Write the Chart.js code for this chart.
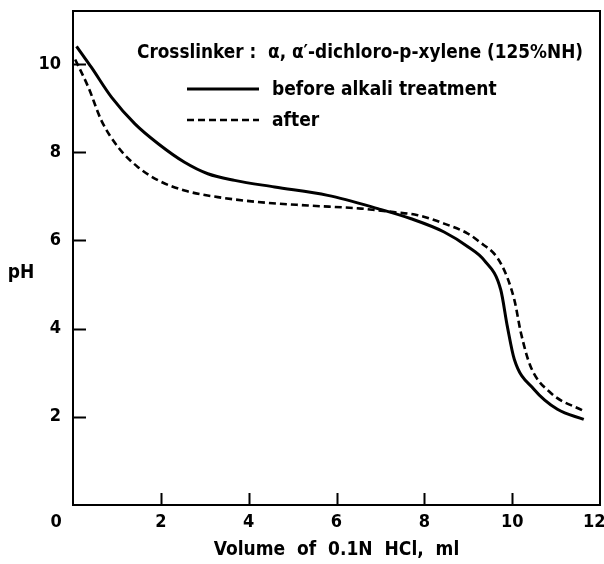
<!DOCTYPE html>
<html>
<head>
<meta charset="utf-8">
<script src="https://cdn.jsdelivr.net/npm/chart.js@4.4.1/dist/chart.umd.min.js"></script>
<style>
  html, body { margin: 0; padding: 0; background: #fff; }
  #wrap { width: 604px; height: 564px; }
</style>
</head>
<body>
<div id="wrap"><canvas id="phChart" width="604" height="564"></canvas></div>
<script>
// titration curves
const beforeVol = [0.08, 0.42, 0.88, 1.41, 1.94, 2.54, 3.07, 3.68, 4.59, 5.8, 6.94, 7.7, 8.45, 9.0, 9.36, 9.74, 9.89, 10.05, 10.5, 11.03, 11.63];
const beforePH  = [10.4, 9.92, 9.24, 8.64, 8.19, 7.77, 7.51, 7.36, 7.21, 7.02, 6.72, 6.49, 6.19, 5.85, 5.55, 4.88, 4.05, 3.3, 2.62, 2.17, 1.94];

const afterVol = [0.05, 0.35, 0.65, 1.03, 1.48, 1.94, 2.54, 3.3, 4.21, 5.35, 6.56, 7.3, 7.85, 8.45, 8.98, 9.21, 9.74, 10.05, 10.2, 10.42, 10.88, 11.63];
const afterPH  = [10.1, 9.47, 8.71, 8.11, 7.66, 7.36, 7.13, 6.98, 6.87, 6.79, 6.72, 6.64, 6.57, 6.38, 6.16, 6.0, 5.48, 4.65, 3.9, 3.14, 2.54, 2.13];

const xTicks = [0, 2, 4, 6, 8, 10, 12];
const yTicks = [2, 4, 6, 8, 10];

const seriesLabels = ["before alkali treatment", "after"];
const legendTitle = "Crosslinker :  \u03b1, \u03b1\u2032-dichloro-p-xylene (125%NH)";
const xTitle = "Volume  of  0.1N  HCl,  ml";
const yTitle = "pH";

const tickFont = { family: '"Liberation Sans Narrow", "DejaVu Sans Condensed", "DejaVu Sans", sans-serif', size: 18, weight: "bold" };
const textFamily = '"DejaVu Sans Condensed", "DejaVu Sans", sans-serif';

function toPoints(xs, ys) {
  return xs.map((x, i) => ({ x: x, y: ys[i] }));
}

// frame, inward tick marks, legend and the horizontal "pH" label
const decorations = {
  id: "decorations",
  afterDraw(chart) {
    const ctx = chart.ctx;
    const a = chart.chartArea;
    const xs = chart.scales.x, ys = chart.scales.y;
    ctx.save();
    ctx.strokeStyle = "#000";
    ctx.lineWidth = 2;
    ctx.strokeRect(a.left, a.top, a.right - a.left, a.bottom - a.top);

    ctx.beginPath();
    xTicks.forEach(v => {
      if (v <= xs.min || v >= xs.max) return;
      const px = Math.round(xs.getPixelForValue(v)) + 0.5;
      ctx.moveTo(px, a.bottom);
      ctx.lineTo(px, a.bottom - 12);
    });
    yTicks.forEach(v => {
      const py = Math.round(ys.getPixelForValue(v)) + 0.5;
      ctx.moveTo(a.left, py);
      ctx.lineTo(a.left + 13, py);
    });
    ctx.stroke();

    // legend
    ctx.fillStyle = "#000";
    ctx.textBaseline = "middle";
    ctx.textAlign = "left";
    ctx.font = "bold 19px " + textFamily;
    ctx.fillText(legendTitle, 137, 53, 446);

    const rows = [89, 120];
    chart.data.datasets.forEach((ds, i) => {
      ctx.save();
      ctx.strokeStyle = ds.borderColor;
      ctx.lineWidth = ds.borderWidth;
      ctx.setLineDash(ds.borderDash || []);
      ctx.beginPath();
      ctx.moveTo(187, rows[i]);
      ctx.lineTo(259, rows[i]);
      ctx.stroke();
      ctx.restore();
      ctx.font = "bold 19px " + textFamily;
      ctx.fillText(ds.label, 272, rows[i] + 1, i === 0 ? 240 : 60);
    });

    ctx.font = "bold 19px " + textFamily;
    ctx.textAlign = "center";
    ctx.fillText(yTitle, 21, 273);
    ctx.restore();
  }
};

const ctx = document.getElementById("phChart").getContext("2d");
new Chart(ctx, {
  type: "line",
  data: {
    datasets: [
      {
        label: seriesLabels[0],
        data: toPoints(beforeVol, beforePH),
        borderColor: "#000",
        borderWidth: 3,
        pointRadius: 0,
        fill: false,
        cubicInterpolationMode: "monotone"
      },
      {
        label: seriesLabels[1],
        data: toPoints(afterVol, afterPH),
        borderColor: "#000",
        borderWidth: 2.6,
        borderDash: [7, 4],
        pointRadius: 0,
        fill: false,
        cubicInterpolationMode: "monotone"
      }
    ]
  },
  options: {
    responsive: false,
    animation: false,
    devicePixelRatio: 1,
    layout: { padding: { top: 11, right: 4, left: 0, bottom: 0 } },
    plugins: { legend: { display: false }, tooltip: { enabled: false } },
    scales: {
      x: {
        type: "linear",
        min: 0,
        max: 12,
        afterBuildTicks: s => { s.ticks = xTicks.map(v => ({ value: v })); },
        afterFit: s => { s.height = 59; s.paddingLeft = 0; s.paddingRight = 0; },
        grid: { display: false, drawTicks: false },
        border: { display: true, color: "#000", width: 2 },
        ticks: {
          color: "#000",
          font: tickFont,
          padding: 7,
          maxRotation: 0,
          callback: v => (v === 0 ? "0\u2007\u2007\u2007" : v === 12 ? "12\u2007" : String(v))
        },
        title: {
          display: true,
          text: xTitle,
          color: "#000",
          font: { family: textFamily, size: 19, weight: "bold" },
          padding: { top: 0, bottom: 3 }
        }
      },
      y: {
        type: "linear",
        min: 0,
        max: 11.2,
        afterBuildTicks: s => { s.ticks = yTicks.map(v => ({ value: v })); },
        afterFit: s => { s.width = 73; s.paddingTop = 0; s.paddingBottom = 0; },
        grid: { display: false, drawTicks: false },
        border: { display: true, color: "#000", width: 2 },
        ticks: { color: "#000", font: tickFont, padding: 12 }
      }
    }
  },
  plugins: [decorations]
});
</script>
</body>
</html>
